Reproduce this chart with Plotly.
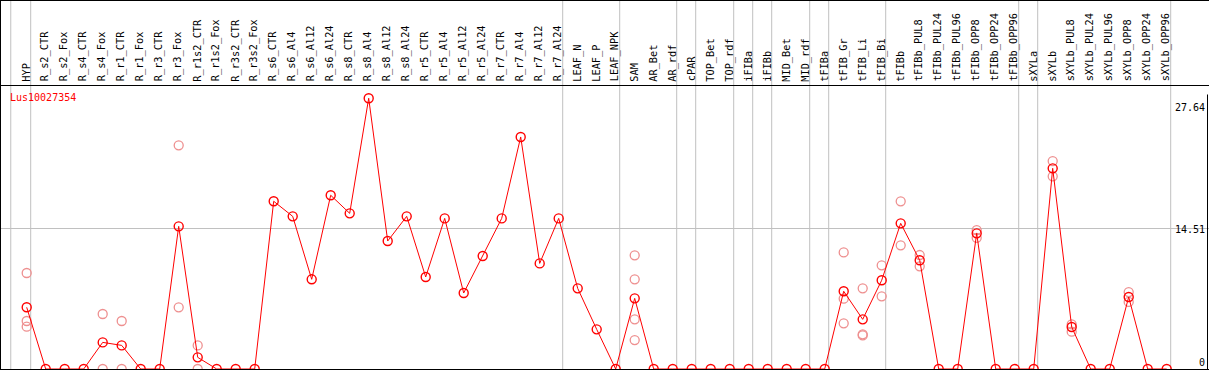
import plotly.graph_objects as go

# ---------------- data ----------------
categories = [
    "HYP",
    "R_s2_CTR", "R_s2_Fox", "R_s4_CTR", "R_s4_Fox", "R_r1_CTR", "R_r1_Fox",
    "R_r3_CTR", "R_r3_Fox", "R_r1s2_CTR", "R_r1s2_Fox", "R_r3s2_CTR", "R_r3s2_Fox",
    "R_s6_CTR", "R_s6_Al4", "R_s6_Al12", "R_s6_Al24", "R_s8_CTR", "R_s8_Al4",
    "R_s8_Al12", "R_s8_Al24", "R_r5_CTR", "R_r5_Al4", "R_r5_Al12", "R_r5_Al24",
    "R_r7_CTR", "R_r7_Al4", "R_r7_Al12", "R_r7_Al24",
    "LEAF_N", "LEAF_P", "LEAF_NPK",
    "SAM", "AR_Bet", "AR_rdf",
    "cPAR",
    "TOP_Bet", "TOP_rdf",
    "iFIBa",
    "iFIBb",
    "MID_Bet", "MID_rdf",
    "tFIBa",
    "tFIB_Gr", "tFIB_Li", "tFIB_Bi",
    "tFIBb", "tFIBb_PUL8", "tFIBb_PUL24", "tFIBb_PUL96", "tFIBb_OPP8", "tFIBb_OPP24", "tFIBb_OPP96",
    "sXYLa",
    "sXYLb", "sXYLb_PUL8", "sXYLb_PUL24", "sXYLb_PUL96", "sXYLb_OPP8", "sXYLb_OPP24", "sXYLb_OPP96",
]

# number of categories in each separated group (gray separator lines)
group_sizes = [1, 28, 3, 3, 1, 2, 1, 1, 2, 1, 3, 7, 1, 7]

mean_values = [
    6.35,
    0, 0, 0, 2.74, 2.43, 0,
    0, 14.68, 1.20, 0, 0, 0,
    17.26, 15.71, 9.23, 17.88, 16.02, 27.86,
    13.17, 15.71, 9.47, 15.50, 7.82, 11.63,
    15.50, 23.88, 10.87, 15.50,
    8.30, 4.08, 0,
    7.27, 0, 0,
    0,
    0, 0,
    0,
    0,
    0, 0,
    0,
    8.00, 5.11, 9.13,
    14.99, 11.19, 0, 0, 13.96, 0, 0,
    0,
    20.65, 4.32, 0, 0, 7.41, 0, 0,
]

# individual replicate values (category, value)
rep_categories = [
    "HYP", "HYP", "HYP",
    "R_s4_Fox", "R_s4_Fox",
    "R_r1_CTR", "R_r1_CTR",
    "R_r3_Fox", "R_r3_Fox",
    "R_r1s2_CTR", "R_r1s2_CTR",
    "SAM", "SAM", "SAM", "SAM",
    "tFIB_Gr", "tFIB_Gr", "tFIB_Gr",
    "tFIB_Li", "tFIB_Li", "tFIB_Li",
    "tFIB_Bi", "tFIB_Bi",
    "tFIBb", "tFIBb",
    "tFIBb_PUL8", "tFIBb_PUL8",
    "tFIBb_OPP8", "tFIBb_OPP8",
    "sXYLb", "sXYLb",
    "sXYLb_PUL8", "sXYLb_PUL8",
    "sXYLb_OPP8", "sXYLb_OPP8",
]
rep_values = [
    9.88, 4.94, 4.36,
    5.66, 0,
    4.94, 0,
    23.02, 6.35,
    2.43, 0,
    11.70, 9.23, 5.11, 2.98,
    12.00, 7.24, 4.70,
    8.30, 3.57, 3.46,
    10.67, 7.48,
    17.26, 12.73,
    11.73, 10.57,
    14.30, 13.50,
    21.40, 19.83,
    4.60, 3.84,
    7.92, 6.90,
]

gene_name = "Lus10027354"
y_labels = ["27.64", "14.51", "0"]
y_label_values = [27.64, 14.51, 0]

# ---------------- styling / layout ----------------
W, H = 1209, 370
STEP = 19.0          # px per category
FIRST_X = 26.7       # px of first category
ZERO_Y = 369.0       # px of value 0
PX_PER_UNIT = 9.717  # px per unit
HEADER_Y = 85.5      # px of header bottom line
MONO = "DejaVu Sans Mono"

idx = {c: i for i, c in enumerate(categories)}
x_main = list(range(len(categories)))
x_rep = [idx[c] for c in rep_categories]

x0 = -FIRST_X / STEP
x1 = x0 + W / STEP
y0 = -(H - ZERO_Y) / PX_PER_UNIT
y1 = ZERO_Y / PX_PER_UNIT

fig = go.Figure()

fig.add_trace(go.Scatter(
    x=x_rep, y=rep_values, mode="markers",
    marker=dict(symbol="circle-open", size=9, color="#ee9090",
                line=dict(width=1.3, color="#ee9090")),
    hoverinfo="skip", showlegend=False,
))
fig.add_trace(go.Scatter(
    x=x_main, y=mean_values, mode="lines+markers",
    line=dict(color="#ff0000", width=1),
    marker=dict(symbol="circle-open", size=9, color="#ff0000",
                line=dict(width=1.4, color="#ff0000")),
    showlegend=False,
))

shapes = []
# group separator lines
boundary = -1
sep_positions = [boundary + 4 / STEP - 0.05]
for g in group_sizes:
    boundary += g
    sep_positions.append(boundary + 4 / STEP)
for sx in sep_positions:
    shapes.append(dict(type="line", xref="x", yref="paper", x0=sx, x1=sx, y0=0, y1=1,
                       line=dict(color="#c0c0c0", width=1), layer="below"))

def py(p):
    return 1 - p / H

def pxp(p):
    return p / W

black = dict(color="black", width=1)
# outer frame + header line
shapes += [
    dict(type="line", xref="paper", yref="paper", x0=0, x1=1, y0=py(0.5), y1=py(0.5), line=black),
    dict(type="line", xref="paper", yref="paper", x0=pxp(0.5), x1=pxp(0.5), y0=0, y1=1, line=black),
    dict(type="line", xref="paper", yref="paper", x0=0, x1=1, y0=py(HEADER_Y), y1=py(HEADER_Y), line=black),
    dict(type="line", xref="paper", yref="paper", x0=pxp(1207.5), x1=pxp(1207.5), y0=0, y1=py(HEADER_Y + 9), line=black),
    dict(type="line", xref="paper", yref="paper", x0=0, x1=1, y0=py(369.5), y1=py(369.5), line=black),
]

annotations = []
for i, c in enumerate(categories):
    annotations.append(dict(
        x=i - 0.05, y=py(HEADER_Y - 2), xref="x", yref="paper",
        text=c, textangle=-90, showarrow=False,
        xanchor="center", yanchor="bottom",
        font=dict(family=MONO, size=10.3, color="black"),
    ))
annotations.append(dict(
    x=pxp(8), y=py(97), xref="paper", yref="paper", text=gene_name,
    showarrow=False, xanchor="left", yanchor="middle",
    font=dict(family=MONO, size=10, color="#ff0000"),
))
shifts = [-7, -1, 7]
for lab, v, s in zip(y_labels, y_label_values, shifts):
    annotations.append(dict(
        x=pxp(1206.5), y=v, xref="paper", yref="y", yshift=s, text=lab,
        showarrow=False, xanchor="right", yanchor="middle",
        font=dict(family=MONO, size=10, color="black"),
    ))

fig.update_layout(
    width=W, height=H,
    margin=dict(l=0, r=0, t=0, b=0, pad=0),
    paper_bgcolor="white", plot_bgcolor="white",
    xaxis=dict(range=[x0, x1], showgrid=False, zeroline=False, showticklabels=False,
               ticks="", showline=False, fixedrange=True),
    yaxis=dict(range=[y0, y1], tickvals=[14.51], showgrid=True, gridcolor="#c0c0c0",
               gridwidth=1, zeroline=False, showticklabels=False, ticks="", showline=False,
               fixedrange=True),
    shapes=shapes,
    annotations=annotations,
    showlegend=False,
)

fig.write_html(
    "out.html",
    config={"displayModeBar": False},
    post_script="document.body.style.margin='0';document.body.style.padding='0';"
                "document.body.style.overflow='hidden';",
)
